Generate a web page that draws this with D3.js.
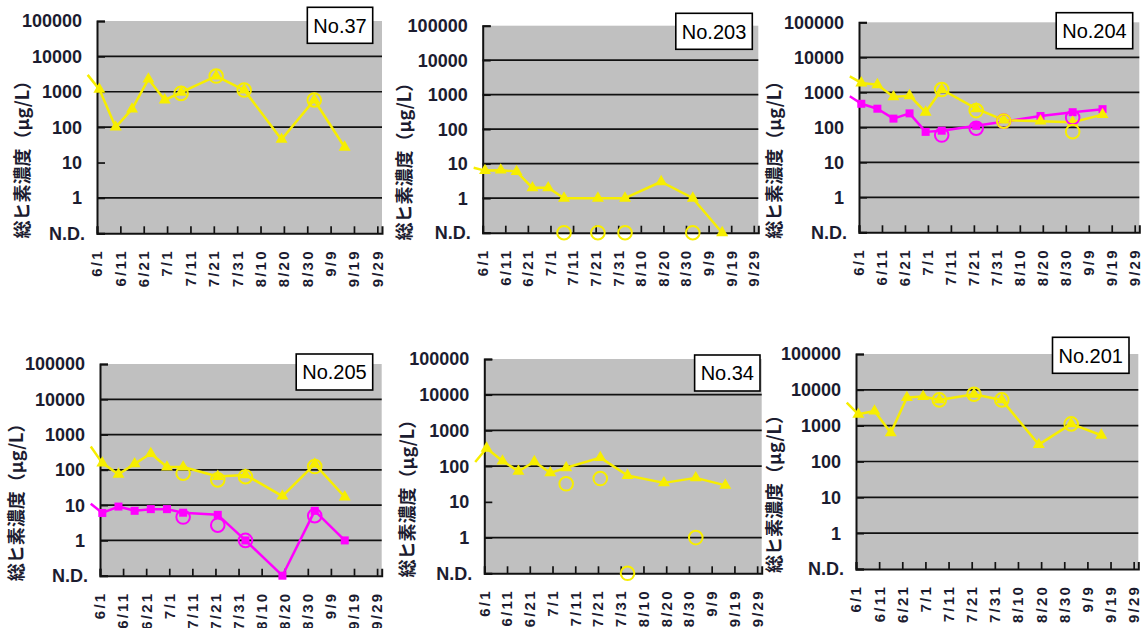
<!DOCTYPE html>
<html><head><meta charset="utf-8">
<script src="https://cdn.jsdelivr.net/npm/d3@7"></script>
<style>body{margin:0;background:#fff;} svg{display:block;}</style>
</head><body>
<svg id="c" width="1147" height="628"></svg>
<script>
// ---------- data ----------
const ND = 0.1; // "N.D." plotted at the bottom of the log axis
const sampleDates = ["5/28","6/2","6/9","6/16","6/23","6/30","7/7","7/22","8/3","8/19","9/2","9/15"];
const circleDates = ["7/7","7/22","8/3","9/2"];
const xTickLabels = ["6/1","6/11","6/21","7/1","7/11","7/21","7/31","8/10","8/20","8/30","9/9","9/19","9/29"];
const yTickValues = [ND, 1, 10, 100, 1000, 10000, 100000];
const yTickLabels = ["N.D.", "1", "10", "100", "1000", "10000", "100000"];
const yAxisTitle = "総ヒ素濃度（μg/L）";
const stationNames = ["No.37", "No.203", "No.204", "No.205", "No.34", "No.201"];

// yellow (triangle) series, one value per sampleDates entry
const no37Yellow  = [3000, 1170, 100, 325, 2290, 585, 960, 2780, 1120, 45, 585, 27];
const no203Yellow = [7.6, 6.3, 6.5, 5.9, 2, 2, 1, 1, 1, 3, 1, ND];
const no204Yellow = [2840, 1850, 1650, 740, 800, 270, 1200, 340, 160, 150, 140, 230];
const no205Yellow = [460, 155, 75, 148, 290, 120, 120, 65, 72, 18, 146, 17];
const no34Yellow  = [130, 318, 139, 72, 133, 65, 90, 173, 55, 34, 47, 29];
const no201Yellow = [4390, 2070, 2560, 630, 6070, 6480, 5230, 7540, 5230, 295, 1120, 540];

// magenta (square) series
const no204Magenta = [770, 470, 340, 177, 250, 74, 80, 110, null, 210, 270, 330];
const no205Magenta = [11, 6, 9.1, 6.9, 7.7, 7.7, 6.1, 5.3, 1, ND, 6.9, 1];

// open-circle values, one per circleDates entry
const no37YellowCircles  = [900, 2780, 1120, 585];
const no203YellowCircles = [ND, ND, ND, ND];
const no204YellowCircles = [1200, 300, 150, 75];
const no204MagentaCircles = [60, 94, 150, 190];
const no205YellowCircles = [80, 52, 64, 124];
const no205MagentaCircles = [4.6, 2.7, 1, 5];
const no34YellowCircles  = [32, 45, ND, 1];
const no201YellowCircles = [5230, 7540, 5230, 1120];

// ---------- layout (positions / styles only) ----------
const YELLOW = "#f7ee00", MAGENTA = "#ff00ff", GRAY = "#c0c0c0", INK = "#1c1c30";
const panelLayout = [
  {x: 97,    y: 21,    w: 285,   h: 212.3, titleX: 23,  boxDx: -9.3, boxDy: -13.7, noGrid10: true},
  {x: 482.7, y: 25.7,  w: 275.6, h: 207,   titleX: 405, boxDx: -6,   boxDy: -12.4, noGrid10: false},
  {x: 859,   y: 22.3,  w: 280.3, h: 210,   titleX: 775, boxDx: -6.6, boxDy: -9.6,  noGrid10: false},
  {x: 100,   y: 364,   w: 281.7, h: 211.7, titleX: 17,  boxDx: -9,   boxDy: -10,   noGrid10: false},
  {x: 484.3, y: 359,   w: 277.4, h: 214.3, titleX: 408, boxDx: -1.7, boxDy: -4,    noGrid10: true},
  {x: 856,   y: 354,   w: 282.3, h: 215,   titleX: 775, boxDx: -9.3, boxDy: -16.7, noGrid10: false}
];

const panels = [
  {name: stationNames[0], series: [{vals: no37Yellow,  color: YELLOW, mark: "tri", circles: no37YellowCircles}]},
  {name: stationNames[1], series: [{vals: no203Yellow, color: YELLOW, mark: "tri", circles: no203YellowCircles}]},
  {name: stationNames[2], series: [{vals: no204Magenta, color: MAGENTA, mark: "sq", circles: no204MagentaCircles},
                                   {vals: no204Yellow, color: YELLOW, mark: "tri", circles: no204YellowCircles}]},
  {name: stationNames[3], series: [{vals: no205Magenta, color: MAGENTA, mark: "sq", circles: no205MagentaCircles},
                                   {vals: no205Yellow, color: YELLOW, mark: "tri", circles: no205YellowCircles}]},
  {name: stationNames[4], series: [{vals: no34Yellow,  color: YELLOW, mark: "tri", circles: no34YellowCircles}]},
  {name: stationNames[5], series: [{vals: no201Yellow, color: YELLOW, mark: "tri", circles: no201YellowCircles}]}
];

const parse = s => d3.timeParse("%Y/%m/%d")("2009/" + s);
const xStart = parse("6/1"), xEnd = parse("10/1");
const svg = d3.select("#c");
const FONT = "'Liberation Sans', Arial, sans-serif";

panels.forEach((p, i) => {
  const L = panelLayout[i];
  const x = d3.scaleTime().domain([xStart, xEnd]).range([L.x, L.x + L.w]);
  const y = d3.scaleLog().domain([ND, 100000]).range([L.y + L.h, L.y]);
  const g = svg.append("g");

  // plot background
  g.append("rect").attr("x", L.x).attr("y", L.y).attr("width", L.w).attr("height", L.h)
    .attr("fill", GRAY);

  // gridlines
  yTickValues.filter(v => v > 1 - 1e-9 && v < 100000 && !(L.noGrid10 && v === 10)).forEach(v => {
    g.append("line").attr("x1", L.x).attr("x2", L.x + L.w).attr("y1", y(v)).attr("y2", y(v))
      .attr("stroke", "#111").attr("stroke-width", 1.7);
  });

  // y axis with inside ticks
  const yAxis = d3.axisLeft(y).tickValues(yTickValues).tickSize(-8).tickFormat("");
  const ya = g.append("g").attr("transform", `translate(${L.x},0)`).call(yAxis);
  ya.select(".domain").attr("stroke", "#111").attr("stroke-width", 2);
  ya.selectAll(".tick line").attr("stroke", "#111").attr("stroke-width", 1.7);

  // y tick labels
  yTickValues.forEach((v, k) => {
    g.append("text").attr("x", L.x - (k === 0 ? 12 : 15)).attr("y", y(v))
      .attr("dy", "0.36em").attr("text-anchor", "end")
      .attr("font-family", FONT).attr("font-size", 18).attr("font-weight", "bold")
      .attr("fill", INK).text(yTickLabels[k]);
  });

  // x axis with inside ticks
  const xTicks = xTickLabels.map(parse);
  const xAxis = d3.axisBottom(x).tickValues(xTicks).tickSize(-7).tickFormat("");
  const xa = g.append("g").attr("transform", `translate(0,${L.y + L.h})`).call(xAxis);
  xa.select(".domain").attr("stroke", "#111").attr("stroke-width", 2);
  xa.selectAll(".tick line").attr("stroke", "#111").attr("stroke-width", 1.7);

  // x tick labels (vertical)
  xTicks.forEach((d, k) => {
    const tx = x(d), ty = L.y + L.h + 16;
    g.append("text").attr("transform", `translate(${tx},${ty}) rotate(-90)`)
      .attr("dy", "0.36em").attr("text-anchor", "end")
      .attr("font-family", FONT).attr("font-size", 15).attr("font-weight", "bold")
      .attr("letter-spacing", 2.2)
      .attr("fill", INK).text(xTickLabels[k]);
  });

  // y axis title
  g.append("text")
    .attr("transform", `translate(${L.titleX},${L.y + L.h / 2 + 28}) rotate(-90)`)
    .attr("dy", "0.35em").attr("text-anchor", "middle")
    .attr("font-family", "'Noto Sans CJK JP', sans-serif").attr("font-size", 18)
    .attr("font-weight", "bold").attr("fill", INK).text(yAxisTitle);

  // series
  p.series.forEach(s => {
    const pts = sampleDates.map((d, k) => ({d: parse(d), v: s.vals[k]})).filter(o => o.v != null);
    const line = d3.line().x(o => x(o.d)).y(o => y(o.v));
    g.append("path").attr("d", line(pts)).attr("fill", "none")
      .attr("stroke", s.color).attr("stroke-width", 2.5).attr("stroke-linejoin", "round");
    const inRange = pts.filter(o => o.d >= xStart);
    if (s.mark === "tri") {
      const tri = d3.symbol().type(d3.symbolTriangle).size(62);
      g.selectAll(null).data(inRange).enter().append("path")
        .attr("d", tri).attr("transform", o => `translate(${x(o.d)},${y(o.v)})`)
        .attr("fill", s.color);
    } else {
      g.selectAll(null).data(inRange).enter().append("rect")
        .attr("x", o => x(o.d) - 4).attr("y", o => y(o.v) - 4)
        .attr("width", 8).attr("height", 8).attr("fill", s.color);
    }
  });
  // open circles
  p.series.forEach(s => {
    const cpts = circleDates.map((d, k) => ({d: parse(d), v: s.circles[k]}));
    g.selectAll(null).data(cpts).enter().append("circle")
      .attr("cx", o => x(o.d)).attr("cy", o => y(o.v)).attr("r", 6.8)
      .attr("fill", "none").attr("stroke", s.color).attr("stroke-width", 2);
  });

  // station label box
  const bg = g.append("rect");
  const t = g.append("text").attr("text-anchor", "middle").attr("font-family", FONT)
    .attr("font-size", 20).attr("fill", "#000").attr("dy", "0.36em").text(p.name);
  const tw = t.node().getComputedTextLength();
  const bw = tw + 12, bh = 36;
  const bx = L.x + L.w + L.boxDx - bw, by = L.y + L.boxDy;
  bg.attr("x", bx).attr("y", by).attr("width", bw).attr("height", bh)
    .attr("fill", "#fff").attr("stroke", "#000").attr("stroke-width", 1.6);
  t.attr("x", bx + bw / 2).attr("y", by + bh / 2);
});
</script>
</body></html>
